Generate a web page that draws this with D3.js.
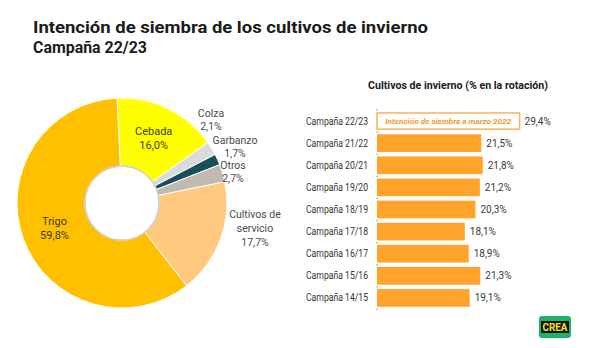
<!DOCTYPE html>
<html>
<head>
<meta charset="utf-8">
<script src="https://cdn.jsdelivr.net/npm/d3@7"></script>
<style>
  body { margin: 0; background: #fff; }
  svg { display: block; font-family: Roboto, "Liberation Sans", sans-serif; }
</style>
</head>
<body>
<div id="chart"></div>
<script>

// pie data
var crops   = ["Cebada", "Colza", "Garbanzo", "Otros", "Cultivos de servicio", "Trigo"];
var shares  = [16.0, 2.1, 1.7, 2.7, 17.7, 59.8];
var shareLabels = ["16,0%", "2,1%", "1,7%", "2,7%", "17,7%", "59,8%"];

// bar data
var campaigns = ["Campaña 22/23", "Campaña 21/22", "Campaña 20/21", "Campaña 19/20",
                 "Campaña 18/19", "Campaña 17/18", "Campaña 16/17", "Campaña 15/16", "Campaña 14/15"];
var rotation  = [29.4, 21.5, 21.8, 21.2, 20.3, 18.1, 18.9, 21.3, 19.1];
var rotationLabels = ["29,4%", "21,5%", "21,8%", "21,2%", "20,3%", "18,1%", "18,9%", "21,3%", "19,1%"];


//******************************************************************************
//**  layout / style
//******************************************************************************
var width = 602, height = 348;

var pieColors = {
    "Cebada": "#FFFF00",
    "Colza": "#DADBDA",
    "Garbanzo": "#17505A",
    "Otros": "#C0BAB3",
    "Cultivos de servicio": "#FFC97F",
    "Trigo": "#FFC000"
};

// where the outside labels sit (label centre, relative to the pie centre)
var outsideLabel = {
    "Colza":    {dx: 89,  dy: -84, lines: ["Colza"]},
    "Garbanzo": {dx: 113, dy: -57, lines: ["Garbanzo"]},
    "Otros":    {dx: 111, dy: -32, lines: ["Otros"]},
    "Cultivos de servicio": {dx: 133, dy: 25, lines: ["Cultivos de", "servicio"]}
};

var barColor = "#FFA32A";


var svg = d3.select("#chart").append("svg")
    .attr("width", width)
    .attr("height", height);

svg.append("rect").attr("width", width).attr("height", height).attr("fill", "#fff");


//**************************************************************************
//** titles
//**************************************************************************
svg.append("text")
    .attr("x", 33).attr("y", 33)
    .attr("font-size", "17px").attr("font-weight", "bold")
    .attr("fill", "#1b1b1b")
    .attr("textLength", 395).attr("lengthAdjust", "spacingAndGlyphs")
    .text("Intención de siembra de los cultivos de invierno");

svg.append("text")
    .attr("x", 33).attr("y", 53)
    .attr("font-size", "16px").attr("font-weight", "bold")
    .attr("fill", "#1b1b1b")
    .attr("textLength", 114).attr("lengthAdjust", "spacingAndGlyphs")
    .text("Campaña 22/23");


//**************************************************************************
//** donut
//**************************************************************************
var cx = 122, cy = 203, outerR = 105, innerR = 37;

var pieData = crops.map(function(c, i){
    return {name: c, value: shares[i], label: shareLabels[i]};
});

var pie = d3.pie()
    .sort(null)
    .value(function(d){ return d.value; })
    .startAngle(-0.047)
    .endAngle(-0.047 + 2 * Math.PI);

var arc = d3.arc().innerRadius(innerR).outerRadius(outerR);
var labelArc = d3.arc().innerRadius(72).outerRadius(72);

var pieArea = svg.append("g").attr("transform", "translate(" + cx + "," + cy + ")");

var arcs = pie(pieData);

pieArea.selectAll("path")
    .data(arcs)
    .enter()
    .append("path")
    .attr("d", arc)
    .attr("fill", function(d){ return pieColors[d.data.name]; })
    .attr("stroke", "#fff")
    .attr("stroke-width", 1);

// soft edge of the hole
pieArea.append("circle")
    .attr("r", innerR)
    .attr("fill", "#fff")
    .attr("stroke", "#cfcfcf")
    .attr("stroke-width", 1.5);

// labels inside the slices
var inside = arcs.filter(function(d){ return d.data.name === "Cebada" || d.data.name === "Trigo"; });
inside.forEach(function(d){
    var c = labelArc.centroid(d);
    var t = pieArea.append("text")
        .attr("text-anchor", "middle")
        .attr("font-size", "11px")
        .attr("fill", "#3d3a1a");
    t.append("tspan").attr("x", c[0]).attr("y", c[1] - 3).text(d.data.name);
    t.append("tspan").attr("x", c[0]).attr("y", c[1] + 11).text(d.data.label);
});

// labels outside
arcs.forEach(function(d){
    var o = outsideLabel[d.data.name];
    if (!o) return;
    var lines = o.lines.concat([d.data.label]);
    var lh = lines.length > 2 ? 14 : 13;
    var top = o.dy - (lines.length - 1) * lh / 2 + 4;
    var t = pieArea.append("text")
        .attr("text-anchor", "middle")
        .attr("font-size", "10.5px")
        .attr("fill", "#4a4a4a");
    lines.forEach(function(l, i){
        t.append("tspan").attr("x", o.dx).attr("y", top + i * lh).text(l);
    });
});


//**************************************************************************
//** bars
//**************************************************************************
svg.append("text")
    .attr("x", 458).attr("y", 89)
    .attr("text-anchor", "middle")
    .attr("font-size", "11px").attr("font-weight", "bold")
    .attr("fill", "#1b1b1b")
    .attr("textLength", 180).attr("lengthAdjust", "spacingAndGlyphs")
    .text("Cultivos de invierno (% en la rotación)");

var x = d3.scaleLinear().domain([0, 30]).range([377, 377 + 30 * 4.85]);
var y = d3.scaleBand().domain(campaigns).range([110, 309]).paddingInner(0.2).paddingOuter(0.1);

var barData = campaigns.map(function(c, i){
    return {name: c, value: rotation[i], label: rotationLabels[i], first: i === 0};
});

var barArea = svg.append("g");

// small ticks on the category axis
var step = y.step();
d3.range(campaigns.length + 1).forEach(function(i){
    var yy = 110 + i * step;
    barArea.append("line")
        .attr("x1", x(0) - 1).attr("x2", x(0) + 1)
        .attr("y1", yy).attr("y2", yy)
        .attr("stroke", "#a8a8a8").attr("stroke-width", 1);
});

barArea.selectAll("rect.bar")
    .data(barData)
    .enter()
    .append("rect")
    .attr("class", "bar")
    .attr("x", x(0))
    .attr("y", function(d){ return y(d.name) + (d.first ? 0.75 : 0); })
    .attr("width", function(d){ return x(d.value) - x(0); })
    .attr("height", function(d){ return y.bandwidth() - (d.first ? 1.5 : 0); })
    .attr("fill", function(d){ return d.first ? "#fff" : barColor; })
    .attr("stroke", function(d){ return d.first ? "#F7B45E" : "none"; })
    .attr("stroke-width", 1.5);

// note inside the first bar
barArea.append("text")
    .attr("x", (x(0) + x(rotation[0])) / 2)
    .attr("y", y(campaigns[0]) + y.bandwidth() / 2 + 3)
    .attr("text-anchor", "middle")
    .attr("font-size", "8px").attr("font-weight", "bold").attr("font-style", "italic")
    .attr("fill", "#F09A2A")
    .attr("textLength", 126).attr("lengthAdjust", "spacingAndGlyphs")
    .text("Intención de siembra a marzo 2022");

barArea.selectAll("text.cat")
    .data(barData)
    .enter()
    .append("text")
    .attr("class", "cat")
    .attr("x", 306)
    .attr("y", function(d){ return y(d.name) + y.bandwidth() / 2 + 3.5; })
    .attr("font-size", "10px")
    .attr("fill", "#333")
    .attr("textLength", 62).attr("lengthAdjust", "spacingAndGlyphs")
    .text(function(d){ return d.name; });

barArea.selectAll("text.val")
    .data(barData)
    .enter()
    .append("text")
    .attr("class", "val")
    .attr("x", function(d){ return x(d.value) + 5; })
    .attr("y", function(d){ return y(d.name) + y.bandwidth() / 2 + 3.5; })
    .attr("font-size", "10px")
    .attr("fill", "#3a3a3a")
    .text(function(d){ return d.label; });


//**************************************************************************
//** logo
//**************************************************************************
var logo = svg.append("g").attr("transform", "translate(539,316)");
logo.append("rect").attr("width", 32).attr("height", 22).attr("rx", 3).attr("fill", "#1DB46A");
logo.append("rect").attr("x", 2).attr("y", 5).attr("width", 28).attr("height", 12).attr("fill", "#111");
logo.append("text")
    .attr("x", 16).attr("y", 15)
    .attr("text-anchor", "middle")
    .attr("font-size", "11px").attr("font-weight", "bold")
    .attr("fill", "#F3E51A")
    .attr("textLength", 25).attr("lengthAdjust", "spacingAndGlyphs")
    .text("CREA");

</script>
</body>
</html>
